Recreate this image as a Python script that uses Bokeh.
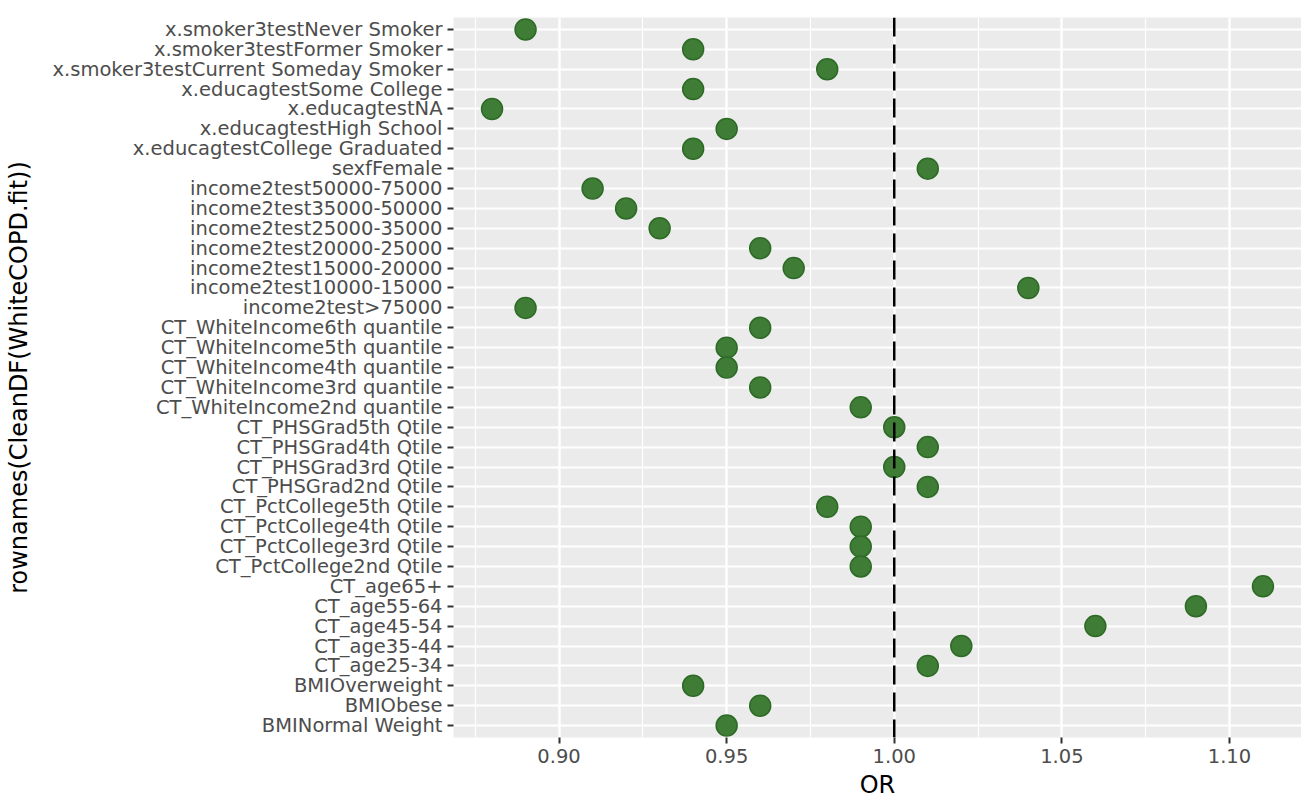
from bokeh.plotting import figure
from bokeh.models import FactorRange, Range1d, FixedTicker, Span, ColumnDataSource, CustomJSTickFormatter
from bokeh.embed import file_html
from bokeh.resources import INLINE

# Categories from top to bottom
terms = [
    "x.smoker3testNever Smoker",
    "x.smoker3testFormer Smoker",
    "x.smoker3testCurrent Someday Smoker",
    "x.educagtestSome College",
    "x.educagtestNA",
    "x.educagtestHigh School",
    "x.educagtestCollege Graduated",
    "sexfFemale",
    "income2test50000-75000",
    "income2test35000-50000",
    "income2test25000-35000",
    "income2test20000-25000",
    "income2test15000-20000",
    "income2test10000-15000",
    "income2test>75000",
    "CT_WhiteIncome6th quantile",
    "CT_WhiteIncome5th quantile",
    "CT_WhiteIncome4th quantile",
    "CT_WhiteIncome3rd quantile",
    "CT_WhiteIncome2nd quantile",
    "CT_PHSGrad5th Qtile",
    "CT_PHSGrad4th Qtile",
    "CT_PHSGrad3rd Qtile",
    "CT_PHSGrad2nd Qtile",
    "CT_PctCollege5th Qtile",
    "CT_PctCollege4th Qtile",
    "CT_PctCollege3rd Qtile",
    "CT_PctCollege2nd Qtile",
    "CT_age65+",
    "CT_age55-64",
    "CT_age45-54",
    "CT_age35-44",
    "CT_age25-34",
    "BMIOverweight",
    "BMIObese",
    "BMINormal Weight",
]
odds_ratio = [
    0.89, 0.94, 0.98, 0.94, 0.88, 0.95, 0.94, 1.01,
    0.91, 0.92, 0.93, 0.96, 0.97, 1.04, 0.89,
    0.96, 0.95, 0.95, 0.96, 0.99,
    1.00, 1.01, 1.00, 1.01,
    0.98, 0.99, 0.99, 0.99,
    1.11, 1.09, 1.06, 1.02, 1.01,
    0.94, 0.96, 0.95,
]
x_ticks = [0.90, 0.95, 1.00, 1.05, 1.10]
x_minor = [0.875, 0.925, 0.975, 1.025, 1.075, 1.125]
ref_value = 1.00

FONT = "DejaVu Sans"

src = ColumnDataSource(dict(term=terms, OR=odds_ratio))

yr = FactorRange(factors=list(reversed(terms)), range_padding=0.1,
                 range_padding_units="absolute")
lo, hi = min(odds_ratio), max(odds_ratio)
pad = (hi - lo) * 0.05
xr = Range1d(lo - pad, hi + pad)

p = figure(width=1301, height=812, y_range=yr, x_range=xr,
           output_backend="svg", toolbar_location=None,
           min_border_left=453, min_border_right=0,
           min_border_top=17, min_border_bottom=75)

p.background_fill_color = "#EBEBEB"
p.border_fill_color = "white"
p.outline_line_color = None

# grid
p.xgrid.ticker = FixedTicker(ticks=x_ticks, minor_ticks=x_minor)
p.xgrid.grid_line_color = "white"
p.xgrid.grid_line_width = 2.4
p.xgrid.minor_grid_line_color = "white"
p.xgrid.minor_grid_line_width = 1.2
p.ygrid.grid_line_color = "white"
p.ygrid.grid_line_width = 2.2

# axes
p.xaxis.ticker = FixedTicker(ticks=x_ticks)
for ax in (p.xaxis[0], p.yaxis[0]):
    ax.axis_line_color = None
    ax.major_tick_line_color = "#333333"
    ax.major_tick_line_width = 2
    ax.major_tick_out = 6
    ax.major_tick_in = 0
    ax.minor_tick_line_color = None
    ax.major_label_text_color = "#4D4D4D"
    ax.major_label_text_font = FONT
    ax.major_label_text_font_size = "19.5px"
    ax.axis_label_text_font = FONT
    ax.axis_label_text_font_size = "24px"
    ax.axis_label_text_font_style = "normal"
    ax.axis_label_text_color = "black"
    ax.major_label_standoff = 5

p.xaxis.formatter = CustomJSTickFormatter(code="return tick.toFixed(2);")
p.xaxis.axis_label = "OR"
p.xaxis.axis_label_standoff = 5
p.yaxis.axis_label = "rownames(CleanDF(WhiteCOPD.fit))"
p.yaxis.axis_label_standoff = 16

p.scatter(x="OR", y="term", source=src, size=21,
          fill_color="#3f7d37", line_color="#2d6a26", line_width=1.5)

p.add_layout(Span(location=ref_value, dimension="height", line_color="black",
                  line_width=2.5, line_dash="19 8"))

open("out.html", "w").write(file_html(p, INLINE))
